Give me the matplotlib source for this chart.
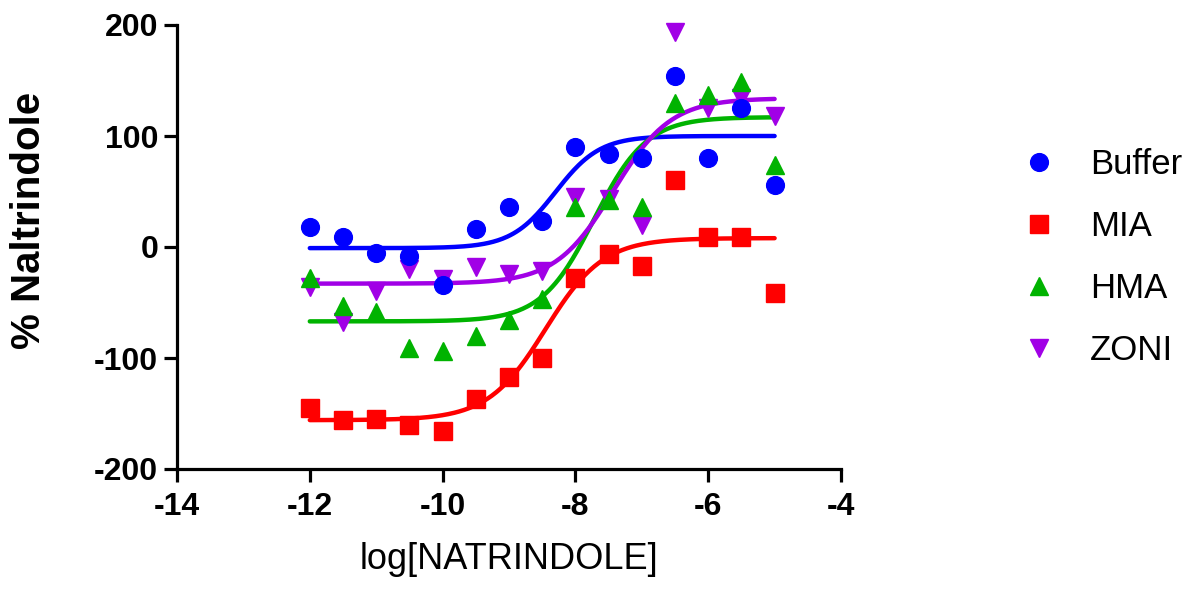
import numpy as np
import matplotlib
matplotlib.use("Agg")
import matplotlib.pyplot as plt

plt.rcParams['font.family'] = ['Liberation Sans', 'DejaVu Sans']
plt.rcParams['axes.unicode_minus'] = False

# log concentrations
logConc = [-12, -11.5, -11, -10.5, -10, -9.5, -9, -8.5, -8, -7.5, -7, -6.5, -6, -5.5, -5]

buffer = [18, 9, -5, -8, -34, 16, 36, 23, 90, 84, 80, 154, 80, 125, 56]
mia = [-145, -156, -155, -160, -166, -137, -117, -100, -28, -6, -17, 60, 9, 9, -41]
hma = [-28, -53, -59, -91, -94, -80, -66, -47, 36, 42, 36, 130, 137, 149, 74]
zoni = [-36, -68, -40, -20, -29, -18, -24, -22, 45, 43, 20, 194, 125, 134, 118]

# fitted sigmoid parameters: bottom, top, logEC50, hill slope
fitBuffer = [-1, 100, -8.3, 1.3]
fitMia = [-156, 8, -8.45, 1.0]
fitHma = [-67, 117, -7.72, 1.1]
fitZoni = [-33, 134, -7.43, 1.0]

names = ['Buffer', 'MIA', 'HMA', 'ZONI']
colors = ['#0000ff', '#ff0000', '#00b300', '#a100e6']
markers = ['o', 's', '^', 'v']
values = [buffer, mia, hma, zoni]
fits = [fitBuffer, fitMia, fitHma, fitZoni]


def sigmoid(x, p):
    bottom, top, ec50, hill = p
    return bottom + (top - bottom) / (1 + 10 ** ((ec50 - x) * hill))


fig = plt.figure(figsize=(11.95, 5.91), dpi=100)
ax = fig.add_axes([177 / 1195, 1 - 469 / 591, 664 / 1195, 444 / 591])

xs = np.linspace(min(logConc), max(logConc), 300)
for i in range(4):
    ax.plot(xs, sigmoid(xs, fits[i]), color=colors[i], lw=3.2, zorder=2,
            solid_capstyle='round')

handles = {}
for i in [3, 2, 1, 0]:
    h, = ax.plot(logConc, values[i], ls='none', marker=markers[i], ms=12.8,
                 color=colors[i], mec=colors[i], zorder=3 + (3 - i), clip_on=False)
    handles[i] = h

ax.set_xlim(-14, -4)
ax.set_ylim(-200, 200)
ax.set_xticks([-14, -12, -10, -8, -6, -4])
ax.set_yticks([-200, -100, 0, 100, 200])

for s in ['top', 'right']:
    ax.spines[s].set_visible(False)
for s in ['left', 'bottom']:
    ax.spines[s].set_linewidth(2.3)
ax.tick_params(direction='out', length=9.5, width=2.3, labelsize=23)
ax.tick_params(axis='x', pad=7)
ax.tick_params(axis='y', pad=4)
for lab in ax.get_xticklabels() + ax.get_yticklabels():
    lab.set_fontweight('bold')

ax.set_xlabel('log[NATRINDOLE]', fontsize=26)
ax.xaxis.set_label_coords(0.5, -0.165)
ax.set_ylabel('% Naltrindole', fontsize=29, fontweight='bold')
ax.yaxis.set_label_coords(-0.195, 0.56)

leg = fig.legend([handles[i] for i in range(4)], names, loc='center left',
                 bbox_to_anchor=(1022 / 1195, 1 - 257.5 / 591), frameon=False,
                 fontsize=25, handlelength=1.0, handletextpad=0.95,
                 labelspacing=0.83, borderpad=0, borderaxespad=0)

fig.savefig('out.png', dpi=100)
